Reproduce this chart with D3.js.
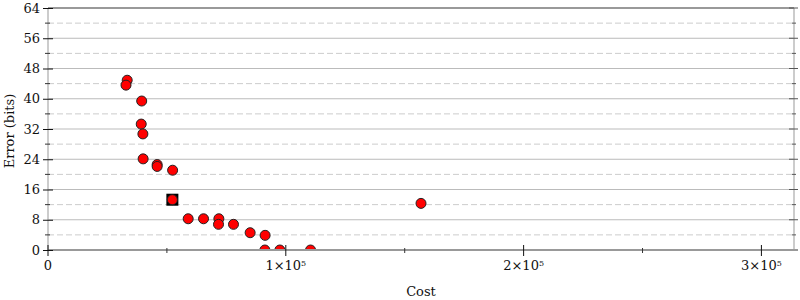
<!DOCTYPE html>
<html><head><meta charset="utf-8">
<script src="https://cdn.jsdelivr.net/npm/d3@7"></script>
<style>body{margin:0;background:#fff}svg{display:block}text{font-family:"DejaVu Serif",serif;font-size:13px;fill:#111}</style>
</head><body><div id="chart"></div>
<script>
const costs =  [33300, 32800, 39400, 39200, 39900, 40000, 45900, 45900, 52400, 52300, 58950, 65400, 71850, 71700, 78000, 85000, 91300, 91200, 97500, 110400, 156850];
const errors = [44.9,  43.6,  39.4,  33.3,  30.7,  24.1,  22.6,  22.1,  21.1,  13.3,  8.26,  8.26,  8.26,  6.79,  6.79,  4.57,  3.88,  0,     0,     0,      12.33];
const highlightCost = [52300];
const highlightError = [13.3];
const yMajor = [0, 8, 16, 24, 32, 40, 48, 56, 64];
const yMinor = [4, 12, 20, 28, 36, 44, 52, 60];
const xMajor = [0, 100000, 200000, 300000];
const xMinor = [50000, 150000, 250000];

const W = 800, H = 300;
const pLeft = 48, pRight = 794, pTop = 8, pBottom = 250;
const xMax = 2 * d3.max(costs);
const x = d3.scaleLinear().domain([0, xMax]).range([pLeft, pRight]);
const y = d3.scaleLinear().domain([0, 64]).range([pBottom, pTop]);

const svg = d3.select("#chart").append("svg").attr("width", W).attr("height", H);

svg.append("defs").append("clipPath").attr("id", "clip")
  .append("rect").attr("x", pLeft).attr("y", pTop).attr("width", pRight - pLeft).attr("height", pBottom - pTop);

// grid
svg.append("g").selectAll("line").data(yMajor.filter(d => d > 0 && d < 64)).join("line")
  .attr("x1", pLeft).attr("x2", pRight).attr("y1", d => y(d)).attr("y2", d => y(d))
  .attr("stroke", "#bbb").attr("stroke-width", 1);
svg.append("g").selectAll("line").data(yMinor).join("line")
  .attr("x1", pLeft).attr("x2", pRight).attr("y1", d => y(d)).attr("y2", d => y(d))
  .attr("stroke", "#ccc").attr("stroke-width", 1).attr("stroke-dasharray", "6,3");

// frame
svg.append("line").attr("x1", pLeft).attr("x2", pLeft).attr("y1", pTop).attr("y2", pBottom).attr("stroke", "#bbb").attr("stroke-width", 1.5);
svg.append("line").attr("x1", pRight).attr("x2", pRight).attr("y1", pTop).attr("y2", pBottom).attr("stroke", "#bbb").attr("stroke-width", 1.5);
svg.append("line").attr("x1", pLeft).attr("x2", pRight).attr("y1", y(64)).attr("y2", y(64)).attr("stroke", "#999").attr("stroke-width", 2);

// points
const pts = svg.append("g").attr("clip-path", "url(#clip)");
pts.selectAll("rect").data(highlightCost).join("rect")
  .attr("x", (d) => x(d) - 6).attr("y", (d, i) => y(highlightError[i]) - 6)
  .attr("width", 12).attr("height", 12).attr("fill", "#000");
pts.selectAll("circle").data(costs).join("circle")
  .attr("cx", d => x(d)).attr("cy", (d, i) => y(errors[i])).attr("r", 5)
  .attr("fill", "#f00").attr("stroke", "#222").attr("stroke-width", 1);

// x axis line
svg.append("line").attr("x1", pLeft).attr("x2", pRight + 4).attr("y1", pBottom).attr("y2", pBottom).attr("stroke", "#999").attr("stroke-width", 2);

// y axis ticks left
const yAxisL = d3.axisLeft(y).tickValues(yMajor).tickSize(5).tickPadding(3);
const gl = svg.append("g").attr("transform", `translate(${pLeft},0)`).call(yAxisL);
gl.select(".domain").remove();
gl.selectAll(".tick line").attr("x2", 5).attr("x1", -5).attr("stroke", "#111");
gl.selectAll(".tick text").attr("x", -8).style("font-family", '"DejaVu Serif",serif').style("font-size", "13px").attr("fill", "#111");
svg.append("g").selectAll("line").data(yMinor).join("line")
  .attr("x1", pLeft - 3).attr("x2", pLeft + 2).attr("y1", d => y(d)).attr("y2", d => y(d)).attr("stroke", "#333");

// right ticks
svg.append("g").selectAll("line").data(yMajor.filter(d => d > 0)).join("line")
  .attr("x1", pRight - 5).attr("x2", pRight + 4).attr("y1", d => y(d)).attr("y2", d => y(d)).attr("stroke", "#555");
svg.append("g").selectAll("line").data(yMinor).join("line")
  .attr("x1", pRight - 2).attr("x2", pRight + 2).attr("y1", d => y(d)).attr("y2", d => y(d)).attr("stroke", "#555");

// x ticks
const gx = svg.append("g").attr("transform", `translate(0,${pBottom})`);
gx.selectAll("line.maj").data(xMajor).join("line").attr("class", "maj")
  .attr("x1", d => x(d)).attr("x2", d => x(d)).attr("y1", -5).attr("y2", 6).attr("stroke", "#111");
gx.selectAll("line.min").data(xMinor).join("line").attr("class", "min")
  .attr("x1", d => x(d)).attr("x2", d => x(d)).attr("y1", -2).attr("y2", 3).attr("stroke", "#333");
const lbl = gx.selectAll("text").data(xMajor).join("text")
  .attr("x", d => x(d)).attr("y", 20).attr("text-anchor", "middle");
lbl.each(function(d) {
  const t = d3.select(this);
  if (d === 0) { t.text("0"); return; }
  const m = d / 100000;
  t.append("tspan").text(m + "×10");
  t.append("tspan").attr("dy", -4).style("font-size", "8px").text("5");
});

// titles
svg.append("text").attr("x", (pLeft + pRight) / 2).attr("y", 296).attr("text-anchor", "middle").text("Cost");
svg.append("text").attr("transform", `translate(14,${(pTop + pBottom) / 2 + 2}) rotate(-90)`).attr("text-anchor", "middle").text("Error (bits)");
</script></body></html>
